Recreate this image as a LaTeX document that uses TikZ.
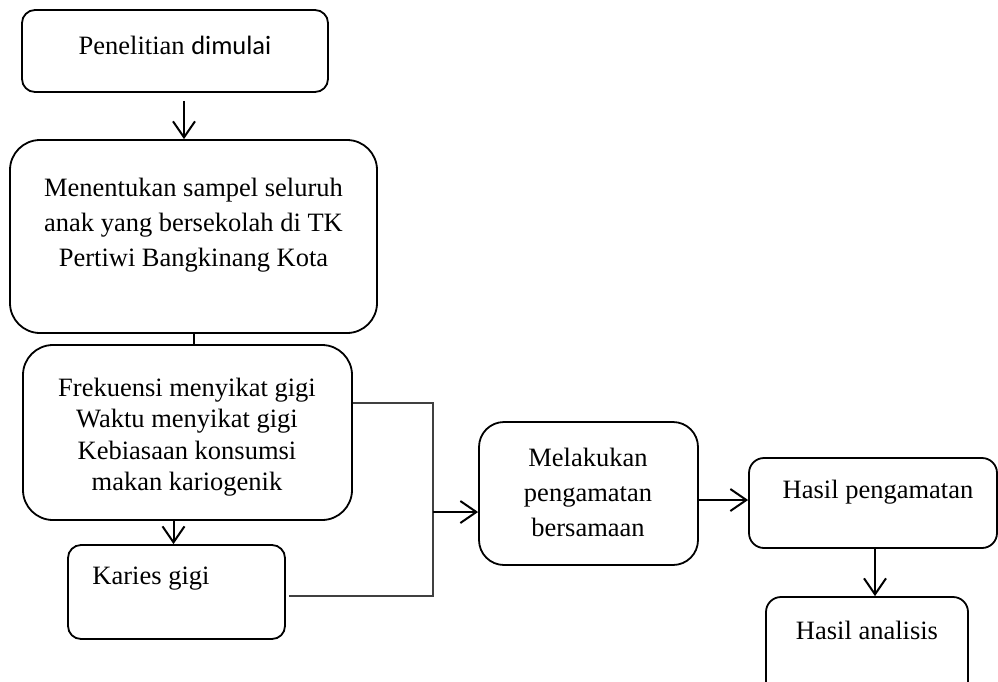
\documentclass[tikz,border=0pt]{standalone}
\usepackage{fontspec}
\setmainfont{Liberation Serif}
\newfontfamily\calfont{Carlito}
\usetikzlibrary{arrows.meta,calc}
\tikzset{
  box/.style={draw=black, line width=1.8pt, inner sep=0pt},
  txt/.style={inner sep=0pt, align=center, font=\fontsize{26.5}{35}\selectfont},
  arr/.style={draw=black, line width=2pt, -{Straight Barb[length=16pt,width=22pt]}},
  link/.style={draw=black, line width=2pt},
  thin/.style={draw=black!75, line width=1.4pt}
}
\begin{document}
\begin{tikzpicture}[x=1pt,y=-1pt]
\useasboundingbox (0,0) rectangle (998,681);
\clip (0,0) rectangle (998,681);
% boxes
\node[box, rounded corners=13pt, minimum width=306pt, minimum height=82pt] (b1) at (175,51) {};
\node[box, rounded corners=30pt, minimum width=367pt, minimum height=193pt] (b2) at (193.5,236.5) {};
\node[box, rounded corners=30pt, minimum width=329pt, minimum height=175pt] (b3) at (187.5,432.5) {};
\node[box, rounded corners=13pt, minimum width=217pt, minimum height=94pt] (kar) at (176.5,592) {};
\node[box, rounded corners=25pt, minimum width=219pt, minimum height=143pt] (b4) at (588.5,493.5) {};
\node[box, rounded corners=15pt, minimum width=248pt, minimum height=90pt] (b5) at (873,503) {};
\node[box, rounded corners=15pt, minimum width=202pt, minimum height=110pt] (b6) at (867,652) {};
% texts
\node[txt] (t1) at (175,45) {Penelitian {\calfont dimulai}};
\node[txt] (t2) at (193.5,225) {Menentukan sampel seluruh\\anak yang bersekolah di TK\\Pertiwi Bangkinang Kota};
\node[txt, font=\fontsize{26.5}{31.5}\selectfont] (t3) at (187,437) {Frekuensi menyikat gigi\\Waktu menyikat gigi\\Kebiasaan konsumsi\\makan kariogenik};
\node[txt] (tk) at (151,579) {Karies gigi};
\node[txt] (t4) at (588,492) {Melakukan\\pengamatan\\bersamaan};
\node[txt] (t5) at (878,492) {Hasil pengamatan};
\node[txt] (t6) at (867,630) {Hasil analisis};
% connectors
\draw[arr] ([xshift=9pt,yshift=-8pt]b1.south) -- ([xshift=9pt]b1.south |- b2.north);
\draw[link] (b2.south) -- (b2.south |- b3.north);
\draw[arr] ([xshift=-14pt]b3.south) -- ([xshift=-14pt]b3.south |- kar.north);
\coordinate (j1) at (433,403);
\coordinate (j2) at (433,596);
\coordinate (jm) at (433,512);
\draw[thin] (b3.east |- j1) -- (j1) -- (j2) -- ([xshift=3pt]kar.east |- j2);
\draw[arr] (jm) -- (b4.west |- jm);
\draw[arr] ([yshift=-6.5pt]b4.east) -- ([yshift=-6.5pt]b4.east -| b5.west);
\draw[arr] ([xshift=2pt]b5.south) -- ([xshift=2pt]b5.south |- b6.north);
\end{tikzpicture}
\end{document}
